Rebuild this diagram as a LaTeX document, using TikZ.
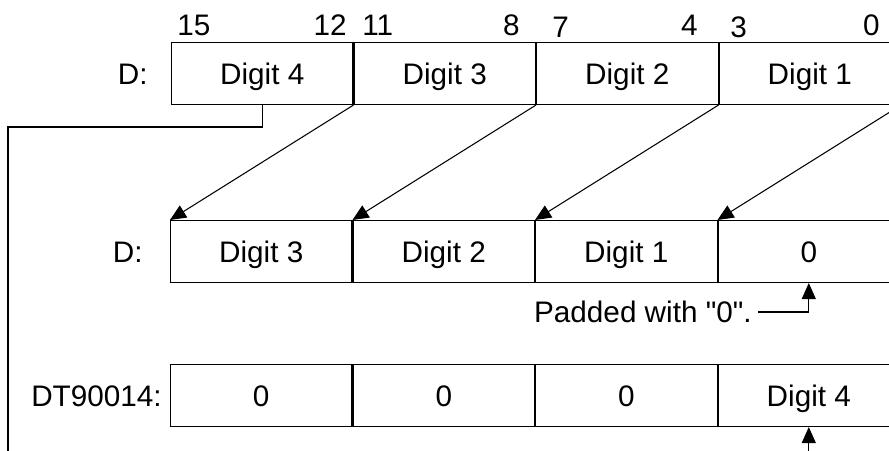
\documentclass[tikz,border=0pt]{standalone}
\usepackage{fontspec}
\setmainfont{Liberation Sans}
\usetikzlibrary{positioning,arrows.meta}
\tikzset{
  cell/.style={draw=black,line width=0.6pt,minimum width=3.63cm,minimum height=1.24cm,
    inner sep=0pt,text height=12pt,text depth=0pt},
  reg/.style={anchor=east,inner sep=0pt,text height=12pt,text depth=0pt},
  bit/.style={inner sep=0pt,text height=12pt,text depth=0pt},
}
\tikzset{carry/.style={draw=black,line width=0.6pt,-{Triangle[length=0.32cm,width=0.28cm]}}}

\begin{document}
\begin{tikzpicture}[x=0.02cm,y=-0.02cm,font=\fontsize{16.9}{20}\selectfont]
\clip (0,0) rectangle (889,450);
% source word
\node[cell] (top1) at (262.25,73.5) {Digit 4};
\node[cell,right=0pt of top1] (top2) {Digit 3};
\node[cell,right=0pt of top2] (top3) {Digit 2};
\node[cell,right=0pt of top3] (top4) {Digit 1};
\node[reg] (dtop) at (148,73.5) {D:};
\node[bit,anchor=west] (b15) at (177,25) {15};
\node[bit,anchor=east] (b12) at (347,25) {12};
\node[bit,anchor=west] (b11) at (362,25) {11};
\node[bit,anchor=east] (b8) at (520,25) {8};
\node[bit,anchor=west] (b7) at (552,27) {7};
\node[bit,anchor=east] (b4) at (698,25) {4};
\node[bit,anchor=west] (b3) at (730,27) {3};
\node[bit,anchor=east] (b0) at (880,25) {0};
% shifted word
\node[cell] (mid1) at (261.25,251.5) {Digit 3};
\node[cell,right=0pt of mid1] (mid2) {Digit 2};
\node[cell,right=0pt of mid2] (mid3) {Digit 1};
\node[cell,right=0pt of mid3] (mid4) {0};
\node[reg] (dmid) at (143,251.5) {D:};
% special register
\node[cell] (bot1) at (261.25,395.5) {0};
\node[cell,right=0pt of bot1] (bot2) {0};
\node[cell,right=0pt of bot2] (bot3) {0};
\node[cell,right=0pt of bot3] (bot4) {Digit 4};
\node[reg] (dtreg) at (162,395.5) {DT90014:};
\node[anchor=east,inner sep=3.4pt,text height=12pt,text depth=0pt] (pad) at (758,312) {Padded with \textquotedbl 0\textquotedbl.};
\draw[carry] (top1.south east) -- (mid1.north west);
\draw[carry] (top2.south east) -- (mid2.north west);
\draw[carry] (top3.south east) -- (mid3.north west);
\draw[carry] (top4.south east) -- (mid4.north west);
\draw[carry] (pad.east) -| (mid4.south);
\draw[carry] (top1.south) |- (8,127) -- (8,470) -| (bot4.south);
\end{tikzpicture}
\end{document}
